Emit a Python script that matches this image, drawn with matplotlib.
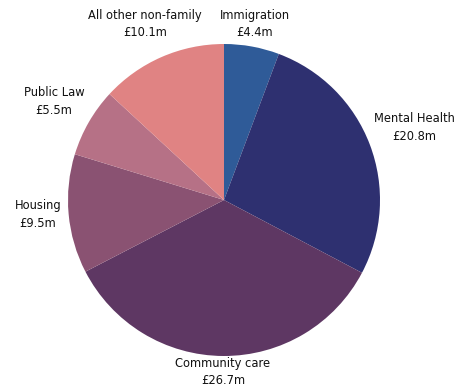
import matplotlib.pyplot as plt

# Data
categories = ["Immigration", "Mental Health", "Community care",
              "Housing", "Public Law", "All other non-family"]
values = [4.4, 20.8, 26.7, 9.5, 5.5, 10.1]
value_labels = ["£4.4m", "£20.8m", "£26.7m", "£9.5m", "£5.5m", "£10.1m"]

colors = ["#2F5B98", "#2E3070", "#5E3763", "#8A5272", "#B67186", "#E08383"]

# label positions in pixel space (x, y from top)
label_pos = [(255, 24), (414, 127), (223, 372), (38, 215), (54, 102), (145, 24)]

W, H = 464, 390
fig = plt.figure(figsize=(W / 100, H / 100), dpi=100)
ax = fig.add_axes([0, 0, 1, 1])

ax.pie(values, colors=colors, startangle=90, counterclock=False,
       center=(224, H - 200), radius=156, frame=True,
       wedgeprops=dict(linewidth=0))
ax.set_xlim(0, W)
ax.set_ylim(0, H)
ax.set_aspect("equal")
ax.axis("off")

for cat, lab, (x, y) in zip(categories, value_labels, label_pos):
    ax.text(x, H - y, cat + "\n" + lab, ha="center", va="center",
            fontsize=8.3, color="#111111", linespacing=1.5,
            family="DejaVu Sans")

fig.savefig("out.png", dpi=100)
